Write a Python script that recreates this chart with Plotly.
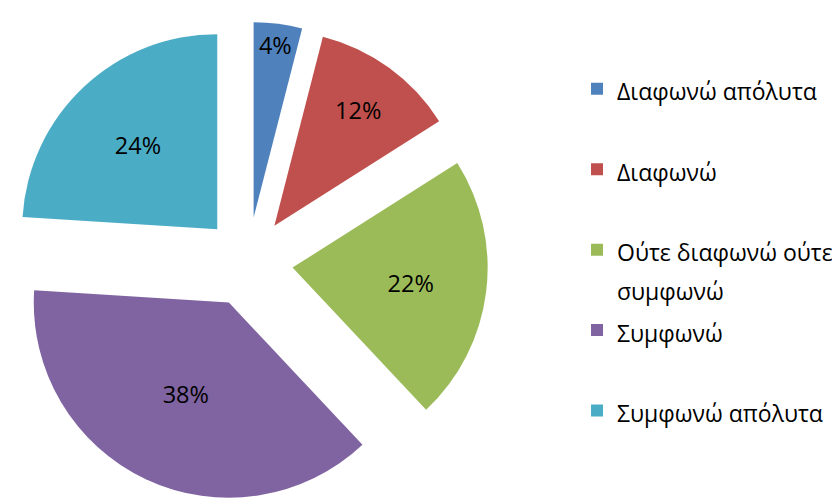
import plotly.graph_objects as go

labels = ["Διαφωνώ απόλυτα", "Διαφωνώ", "Ούτε διαφωνώ ούτε<br>συμφωνώ", "Συμφωνώ", "Συμφωνώ απόλυτα"]
values = [4, 12, 22, 38, 24]
colors = ["#4F81BD", "#C0504D", "#9BBB59", "#8064A2", "#4BACC6"]

LINES_PER_ITEM = 2
legend_labels = []
for lab in labels:
    n = lab.count("<br>") + 1
    padded = "<span style='font-size:23px'>" + lab + "</span>" + "<br>\u00a0" * (LINES_PER_ITEM - n)
    legend_labels.append(padded)

fig = go.Figure(
    go.Pie(
        labels=legend_labels,
        values=values,
        sort=False,
        direction="clockwise",
        rotation=0,
        pull=[0.23] * len(values),
        marker=dict(colors=colors, line=dict(width=0)),
        texttemplate="%{percent:.0%}",
        textposition="inside",
        insidetextorientation="horizontal",
        textfont=dict(family="Open Sans", size=23.5, color="#000000"),
        hoverinfo="skip",
        domain=dict(x=[0, 480 / 840], y=[0, 1]),
    )
)

fig.update_layout(
    width=840,
    height=504,
    margin=dict(l=0, r=0, t=14, b=10),
    paper_bgcolor="white",
    plot_bgcolor="white",
    uniformtext=dict(minsize=23.5, mode="show"),
    showlegend=True,
    legend=dict(
        x=0.6774,
        y=0.915,
        xanchor="left",
        yanchor="top",
        font=dict(family="Open Sans", size=29.8, color="#000000"),
        valign="top",
        bgcolor="rgba(0,0,0,0)",
        borderwidth=0,
    ),
)

fig.write_html("out.html")
